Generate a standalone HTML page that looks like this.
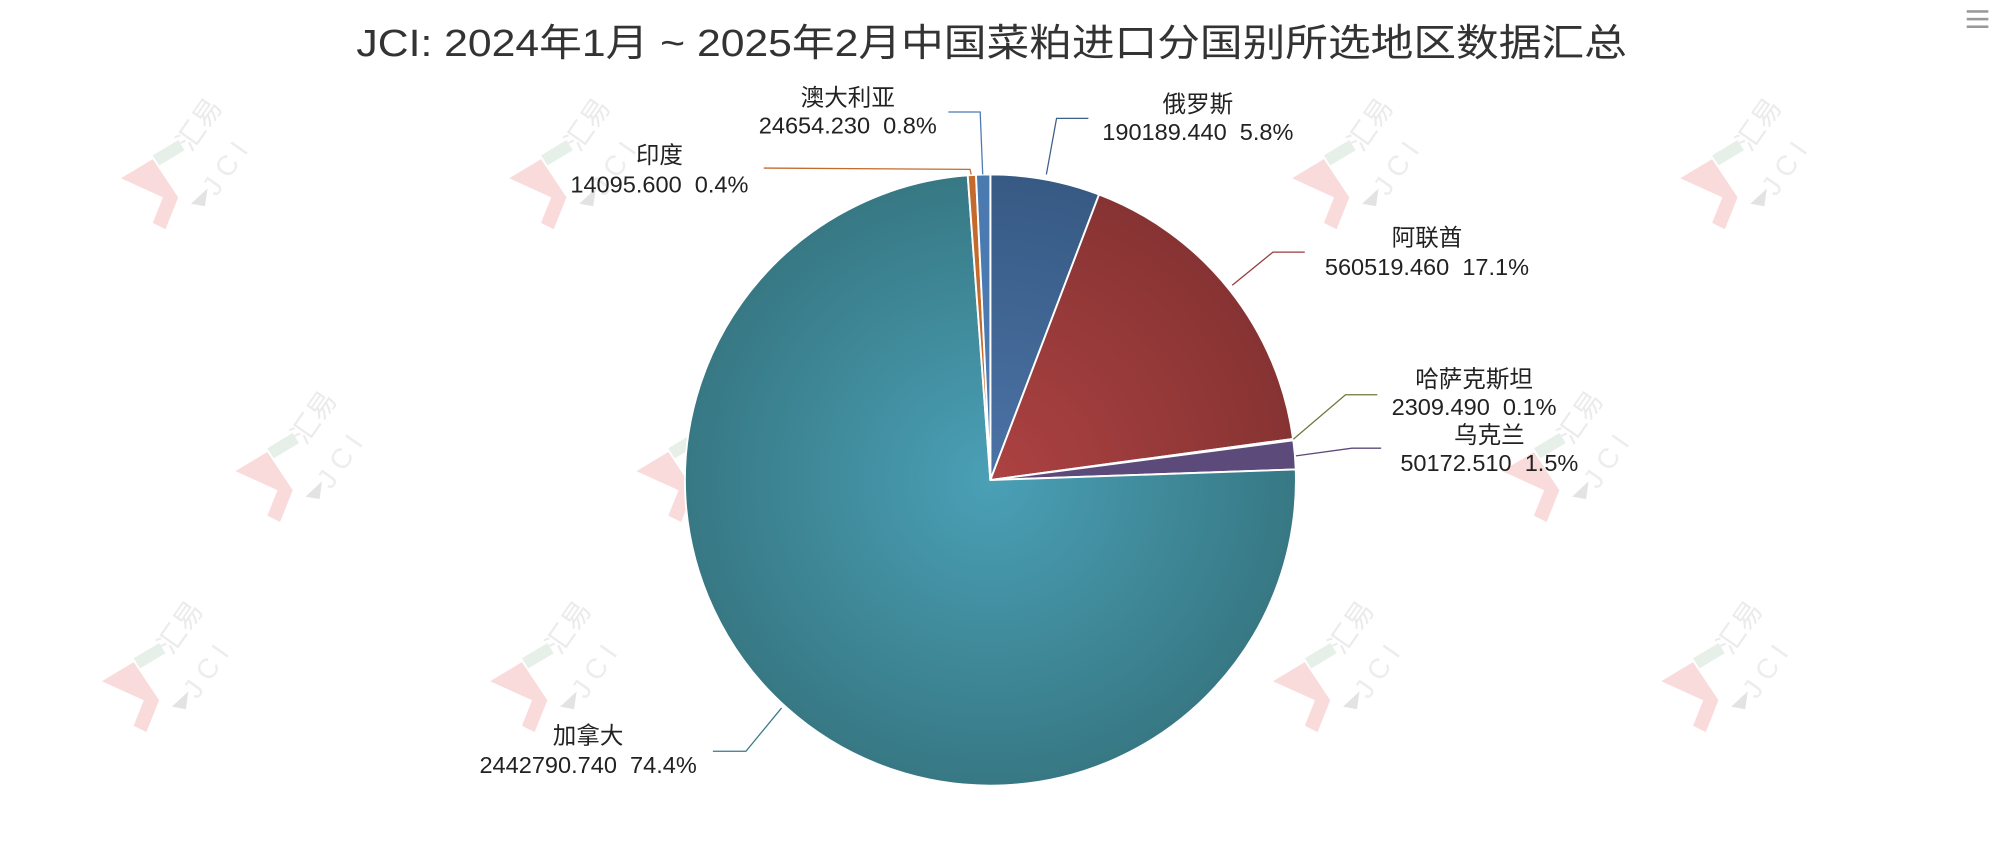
<!DOCTYPE html>
<html><head><meta charset="utf-8"><style>
html,body{margin:0;padding:0;background:#fff;}
svg{display:block;}
text{font-family:"Liberation Sans","Noto Sans CJK SC",sans-serif;white-space:pre;}
</style></head><body>
<svg width="1996" height="848" viewBox="0 0 1568 666" preserveAspectRatio="none" xmlns="http://www.w3.org/2000/svg" xml:space="preserve">
<defs>
<radialGradient id="g1" cx="778" cy="377" r="240" gradientUnits="userSpaceOnUse"><stop offset="0" stop-color="#4aa0b6"/><stop offset="1" stop-color="#377884"/></radialGradient>
<radialGradient id="g2" cx="778" cy="377" r="240" gradientUnits="userSpaceOnUse"><stop offset="0" stop-color="#4b73a6"/><stop offset="1" stop-color="#375a84"/></radialGradient>
<radialGradient id="g3" cx="778" cy="377" r="240" gradientUnits="userSpaceOnUse"><stop offset="0" stop-color="#ad4242"/><stop offset="1" stop-color="#873333"/></radialGradient>
<g id="wm" opacity="0.5">
<path d="M0 40 L25 25 L45 55 L35 80 L25 75 L33 55 Z" fill="#f6b8b8"/>
<path d="M25 22 L45 10 L50 18 L30 30 Z" fill="#cfe3d5"/>
<path d="M55 60 L68 48 L66 62 Z" fill="#c8c8c8"/>
<text x="0" y="0" transform="translate(55,20) rotate(-55)" font-size="22" fill="#d8d8d8">汇易</text>
<text x="0" y="0" transform="translate(75,55) rotate(-55)" font-size="22" fill="#dcdcdc" letter-spacing="6">JCI</text>
</g>
</defs>
<use href="#wm" x="95" y="100"/><use href="#wm" x="400" y="100"/><use href="#wm" x="1015" y="100"/><use href="#wm" x="1320" y="100"/>
<use href="#wm" x="185" y="330"/><use href="#wm" x="500" y="330"/><use href="#wm" x="1180" y="330"/>
<use href="#wm" x="80" y="495"/><use href="#wm" x="385" y="495"/><use href="#wm" x="1000" y="495"/><use href="#wm" x="1305" y="495"/>
<text x="280" y="44" textLength="998" lengthAdjust="spacingAndGlyphs" font-size="30" fill="#333">JCI: 2024年1月 ~ 2025年2月中国菜粕进口分国别所选地区数据汇总</text>
<g fill="#999"><rect x="1545" y="8" width="17" height="2"/><rect x="1545" y="14" width="17" height="2"/><rect x="1545" y="20" width="17" height="2"/></g>
<g stroke="#fff" stroke-width="1.5" stroke-linejoin="round">
<path d="M778 377 L778 137 A240 240 0 0 1 863.4 152.7 Z" fill="url(#g2)"/>
<path d="M778 377 L863.4 152.7 A240 240 0 0 1 1015.8 344.7 Z" fill="url(#g3)"/>
<path d="M778 377 L1015.8 344.7 A240 240 0 0 1 1016 345.8 Z" fill="#6b7a3a"/>
<path d="M778 377 L1016 345.8 A240 240 0 0 1 1017.9 368.7 Z" fill="#5c4a7a"/>
<path d="M778 377 L1017.9 368.7 A240 240 0 1 1 760.2 137.7 Z" fill="url(#g1)"/>
<path d="M778 377 L760.2 137.7 A240 240 0 0 1 766.7 137.3 Z" fill="#c46a2c"/>
<path d="M778 377 L766.7 137.3 A240 240 0 0 1 778 137 Z" fill="#4a7ab0"/>
</g>
<g fill="none" stroke-width="1">
<polyline points="822,137 830,93 855,93" stroke="#3d5f8a"/>
<polyline points="772,137 770,88 745,88" stroke="#4a7ab0"/>
<polyline points="763,137 762,133 600,132" stroke="#c46a2c"/>
<polyline points="968,224 1000,198 1025,198" stroke="#973a3a"/>
<polyline points="1016,345 1057,310 1082,310" stroke="#6b7a3a"/>
<polyline points="1018,358 1062,352 1085,352" stroke="#5c4a7a"/>
<polyline points="614,556 586,590 560,590" stroke="#387886"/>
</g>
<g font-size="18.5" fill="#222" text-anchor="middle">
<text x="941" y="88">俄罗斯</text><text x="941" y="110">190189.440  5.8%</text>
<text x="666" y="83">澳大利亚</text><text x="666" y="105">24654.230  0.8%</text>
<text x="518" y="128">印度</text><text x="518" y="151">14095.600  0.4%</text>
<text x="1121" y="193">阿联酋</text><text x="1121" y="216">560519.460  17.1%</text>
<text x="1158" y="304">哈萨克斯坦</text><text x="1158" y="326">2309.490  0.1%</text>
<text x="1170" y="348">乌克兰</text><text x="1170" y="370">50172.510  1.5%</text>
<text x="462" y="584">加拿大</text><text x="462" y="607">2442790.740  74.4%</text>
</g>
</svg>
</body></html>
